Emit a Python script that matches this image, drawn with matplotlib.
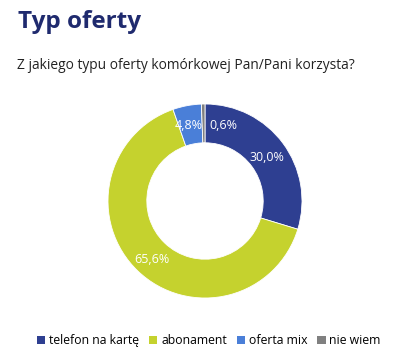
import matplotlib.pyplot as plt
from matplotlib.patches import Patch
import numpy as np

labels = ['telefon na kartę', 'abonament', 'oferta mix', 'nie wiem']
values = [30.0, 65.6, 4.8, 0.6]
value_text = ['30,0%', '65,6%', '4,8%', '0,6%']
colors = ['#2E3F91', '#C5D22E', '#4A7FD8', '#808080']

plt.rcParams['font.family'] = ['Open Sans', 'DejaVu Sans']

fig = plt.figure(figsize=(4.0, 3.64), dpi=100)
fig.patch.set_facecolor('white')

fig.text(0.045, 0.94, 'Typ oferty', fontsize=17.5, fontweight='bold',
         color='#1F2A6E', va='center', ha='left')
fig.text(0.043, 0.82, 'Z jakiego typu oferty komórkowej Pan/Pani korzysta?',
         fontsize=9.9, color='#222222', va='center', ha='left')

# donut, centre ~ (205, 201) px, radius ~97 px
ax = fig.add_axes([(205 - 97) / 400, 1 - (201 + 97) / 364, 194 / 400, 194 / 364])
wedges, _ = ax.pie(values, colors=colors, startangle=90, counterclock=False,
                   radius=1.0, wedgeprops=dict(width=0.4, edgecolor='white', linewidth=0.6))
ax.set_aspect('equal')
ax.set_xlim(-1, 1)
ax.set_ylim(-1, 1)

# label positions (hand placed like the original)
pos = {'0,6%': (0.19, 0.78), '4,8%': (-0.17, 0.78),
       '30,0%': (0.64, 0.45), '65,6%': (-0.55, -0.6)}
for txt in value_text:
    x, y = pos[txt]
    ax.text(x, y, txt, color='white', fontsize=9, ha='center', va='center')

handles = [Patch(facecolor=c, edgecolor='none') for c in colors]
fig.legend(handles, labels, loc='center', bbox_to_anchor=(0.522, 0.064), ncol=4,
           frameon=False, fontsize=8.8, handlelength=0.7, handleheight=0.7,
           handletextpad=0.3, columnspacing=0.8)

fig.savefig('out.png', dpi=100)
